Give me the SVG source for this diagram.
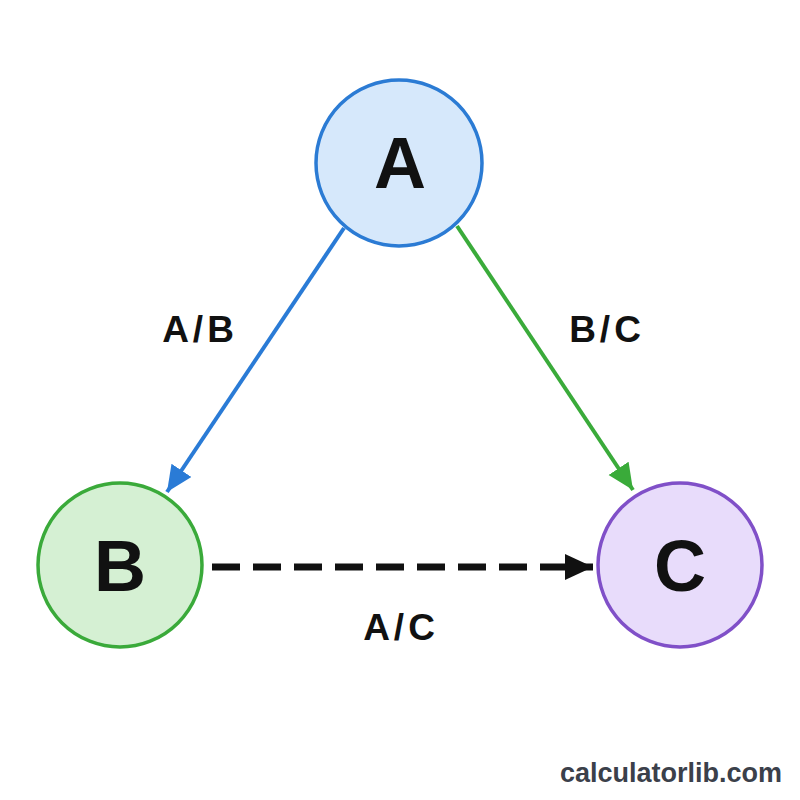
<svg xmlns="http://www.w3.org/2000/svg" width="800" height="800" viewBox="0 0 800 800">
  <style>
    .node-label { font-family: "Liberation Sans", Arial, sans-serif; font-weight: bold; font-size: 72px; fill: #111; text-anchor: middle; }
    .edge-label { font-family: "Liberation Sans", Arial, sans-serif; font-weight: bold; font-size: 37px; fill: #111; text-anchor: middle; letter-spacing: 4px; }
    .wm { font-family: "Liberation Sans", Arial, sans-serif; font-weight: bold; font-size: 27px; fill: #3b404a; text-anchor: end; }
  </style>
  <defs>
    <marker id="arrBlue" markerUnits="userSpaceOnUse" markerWidth="28" markerHeight="26" refX="26" refY="12" orient="auto">
      <path d="M0,0 L26,12 L0,24 z" fill="#2a7bd6"/>
    </marker>
    <marker id="arrGreen" markerUnits="userSpaceOnUse" markerWidth="28" markerHeight="26" refX="26" refY="12" orient="auto">
      <path d="M0,0 L26,12 L0,24 z" fill="#3aab3a"/>
    </marker>
    <marker id="arrBlack" markerUnits="userSpaceOnUse" markerWidth="30" markerHeight="28" refX="28" refY="13" orient="auto">
      <path d="M0,0 L28,13 L0,26 z" fill="#111"/>
    </marker>
  </defs>
  <rect width="800" height="800" fill="#ffffff"/>
  <g id="connectors">
    <line x1="344" y1="228" x2="167" y2="492" stroke="#2a7bd6" stroke-width="4" marker-end="url(#arrBlue)"/>
    <line x1="457" y1="226" x2="633" y2="490" stroke="#3aab3a" stroke-width="4" marker-end="url(#arrGreen)"/>
    <line x1="212" y1="567" x2="593" y2="567" stroke="#111" stroke-width="7" stroke-dasharray="28 13" marker-end="url(#arrBlack)"/>
    <text class="edge-label" x="200" y="342">A/B</text>
    <text class="edge-label" x="607" y="342">B/C</text>
    <text class="edge-label" x="401" y="640">A/C</text>
  </g>
  <g id="node-A">
    <circle cx="399" cy="163" r="83" fill="#d6e8fb" stroke="#2b7bd4" stroke-width="3.5"/>
    <text class="node-label" x="400" y="188">A</text>
  </g>
  <g id="node-B">
    <circle cx="120" cy="565" r="82" fill="#d5f0d3" stroke="#3aaa3a" stroke-width="3.5"/>
    <text class="node-label" x="120" y="591">B</text>
  </g>
  <g id="node-C">
    <circle cx="680" cy="565" r="82" fill="#e8dcfb" stroke="#8050c8" stroke-width="3.5"/>
    <text class="node-label" x="680" y="591">C</text>
  </g>
  <text class="wm" x="782" y="782">calculatorlib.com</text>
</svg>
